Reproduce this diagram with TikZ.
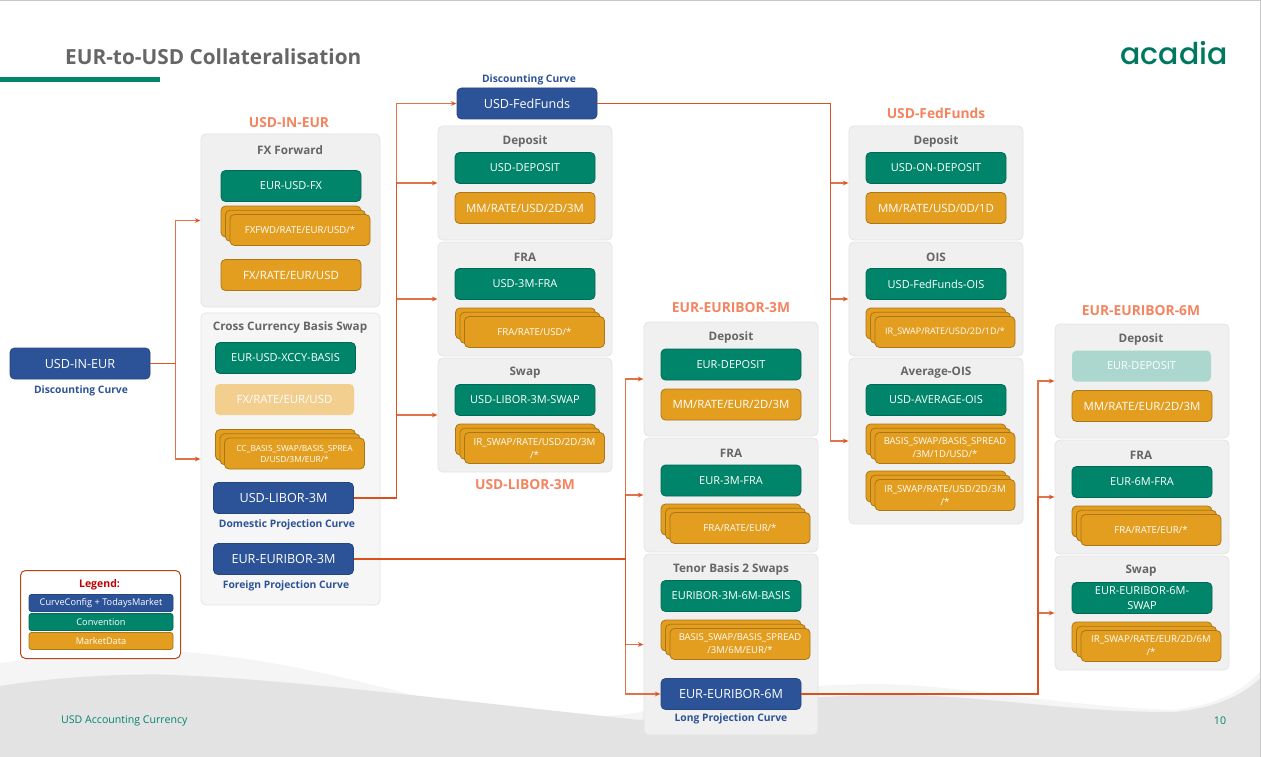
\documentclass[tikz,border=0pt]{standalone}
\usepackage{fontspec}
\setmainfont{Open Sans}
\newfontfamily\logofont{Poppins Medium}
\usetikzlibrary{arrows.meta}
\definecolor{curveblue}{HTML}{2C5297}
\definecolor{convgreen}{HTML}{00856A}
\definecolor{mktorange}{HTML}{E49E1F}
\definecolor{linkred}{HTML}{D9501E}
\definecolor{headsalmon}{HTML}{F4845F}
\definecolor{titlegrey}{HTML}{666666}
\newcommand{\px}[1]{\fontsize{#1}{13}\selectfont}
% stack of three market data boxes, front one centred on x,y
\newcommand{\mktstack}[5][10]{%
\foreach \k in {2,1} {\node[mkt] (#2\k) at ({#3-4.5*\k},{#4-4.25*\k}) {};}
\node[mkt,font=\px{#1}] (#2) at (#3,#4) {#5};}
\begin{document}
\begin{tikzpicture}[x=1pt,y=-1pt,
  every node/.style={inner sep=0pt,align=center},
  panel/.style={draw=black!11,line width=.8pt,fill=black!6,rounded corners=5pt},
  panellow/.style={panel,fill=black!3.5},
  base/.style={minimum width=140pt,minimum height=31pt,rounded corners=4.5pt,line width=.8pt,text=white,yshift=-.5pt},
  conv/.style={base,draw=convgreen!80!black,fill=convgreen,font=\px{11}},
  mkt/.style={base,draw=mktorange!75!black,fill=mktorange,font=\px{11.4}},
  curve/.style={base,draw=curveblue!85!black,fill=curveblue,font=\px{12.6}},
  fadeconv/.style={base,fill=convgreen!33,font=\px{11}},
  fademkt/.style={base,fill=mktorange!50,font=\px{11.4}},
  head/.style={font=\bfseries\px{13.8},text=headsalmon},
  ptitle/.style={font=\bfseries\px{11.7},text=titlegrey,yshift=-2pt},
  curvelabel/.style={font=\bfseries\px{10.3},text=curveblue,yshift=-1.5pt},
  legbox/.style={base,minimum width=144pt,minimum height=17pt,rounded corners=2.5pt,font=\px{9.2}},
  link/.style={draw=linkred,line width=1.3pt,draw opacity=.8,-{Stealth[length=6pt,width=5pt]}}]
\useasboundingbox (0,0) rectangle (1261,757);
% page furniture
\fill[black!4] (0,663) .. controls (40,658) and (70,651) .. (130,651) .. controls (230,648) and (340,675) .. (449,705) .. controls (520,712) and (590,722) .. (640,712) .. controls (700,695) and (800,684) .. (880,684) .. controls (970,686) and (1050,705) .. (1172,710) .. controls (1215,706) and (1245,690) .. (1261,670) -- (1261,757) -- (0,757) -- cycle;
\fill[black!11] (0,686) .. controls (50,678) and (110,674) .. (160,674.5) .. controls (280,678) and (450,700) .. (640,720) .. controls (700,708) and (800,695) .. (886,695) .. controls (980,694) and (1060,712) .. (1172,712) .. controls (1210,710) and (1245,695) .. (1261,677) -- (1261,757) -- (0,757) -- cycle;
\draw[black!22,line width=1pt] (0,.5) -- (1261,.5) (1260.5,0) -- (1260.5,757);
\fill[convgreen] (0,77) rectangle (160,82);
\node[font=\bfseries\px{20.8},text=titlegrey,anchor=west] (pagetitle) at (65,57) {EUR-to-USD Collateralisation};
\node[font=\logofont\px{30},text=convgreen!90!black,anchor=east] (logo) at (1228,53) {acadia};
\node[font=\px{10.6},text=convgreen,anchor=west] (footer) at (61,721) {USD Accounting Currency};
\node[font=\px{10.6},text=convgreen] (pageno) at (1220,720.5) {10};
% USD-IN-EUR
\node[curve] (usdineur) at (80,363) {USD-IN-EUR};
\node[curvelabel] (usdineurlabel) at (81,389) {Discounting Curve};
\node[head] (headinbase) at (289,123) {USD-IN-EUR};
\node[panel,minimum width=179pt,minimum height=173pt] (pfx) at (290.5,220.5) {};
\node[panellow,minimum width=179pt,minimum height=292pt] (pxccy) at (290.5,459) {};
\node[ptitle] (tfx) at (290,148) {FX Forward};
\node[conv] (fxconv) at (291,185.5) {EUR-USD-FX};
\mktstack[9.6]{fxfwd}{300}{229.5}{FXFWD/RATE/EUR/USD/*}
\node[mkt] (fxrate) at (291,274.5) {FX/RATE/EUR/USD};
\node[ptitle] (txccy) at (290,325) {Cross Currency Basis Swap};
\node[conv] (xccyconv) at (285.5,357.5) {EUR-USD-XCCY-BASIS};
\node[fademkt,minimum width=139pt] (xccyfx) at (284.5,399) {FX/RATE/EUR/USD};
\mktstack[8.4]{ccbasis}{294.5}{453}{CC\_BASIS\_SWAP/BASIS\_SPREA\\[-2pt]D/USD/3M/EUR/*}
\node[curve] (usdlibor) at (283.5,497.5) {USD-LIBOR-3M};
\node[curvelabel] (usdliborlabel) at (287,523) {Domestic Projection Curve};
\node[curve] (eureur) at (283.5,558.5) {EUR-EURIBOR-3M};
\node[curvelabel] (eureurlabel) at (286,584) {Foreign Projection Curve};
% legend
\node[draw=linkred!85!black,line width=1pt,fill=white,rounded corners=5pt,minimum width=160pt,minimum height=88pt] (legend) at (100.5,614.5) {};
\node[font=\bfseries\px{10.5},text=red!75!black,yshift=-1.5pt] (legendtitle) at (99.5,583) {Legend:};
\node[legbox,draw=curveblue!85!black,fill=curveblue] (legcurve) at (101,602.5) {CurveConfig + TodaysMarket};
\node[legbox,draw=convgreen!80!black,fill=convgreen] (legconv) at (101,621.5) {Convention};
\node[legbox,draw=mktorange!75!black,fill=mktorange] (legmkt) at (101,640.5) {MarketData};
% USD-LIBOR-3M
\node[curvelabel] (fedlabel) at (529,78) {Discounting Curve};
\node[curve] (usdfed) at (527,103) {USD-FedFunds};
\node[panel,minimum width=174pt,minimum height=114pt] (pdepusd) at (525,183) {};
\node[panel,minimum width=174pt,minimum height=114pt] (pfrausd) at (525,299) {};
\node[panel,minimum width=174pt,minimum height=114pt] (pswpusd) at (525,415) {};
\node[ptitle] (tdepusd) at (525,139) {Deposit};
\node[conv] (depusd) at (525,167.5) {USD-DEPOSIT};
\node[mkt] (mmusd) at (525,207.5) {MM/RATE/USD/2D/3M};
\node[ptitle] (tfrausd) at (525,255) {FRA};
\node[conv] (frausd) at (525,283.5) {USD-3M-FRA};
\mktstack[9.6]{frausdm}{534.5}{331.5}{FRA/RATE/USD/*}
\node[ptitle] (tswpusd) at (525,371) {Swap};
\node[conv] (swpusd) at (525,399.5) {USD-LIBOR-3M-SWAP};
\mktstack[9.7]{irusd}{534.5}{447.5}{IR\_SWAP/RATE/USD/2D/3M\\/*}
\node[head] (headlibor) at (525,485) {USD-LIBOR-3M};
% EUR-EURIBOR-3M
\node[head] (headeur) at (731,308) {EUR-EURIBOR-3M};
\node[panel,minimum width=174pt,minimum height=114pt] (pdepeur) at (731,379) {};
\node[panel,minimum width=174pt,minimum height=114pt] (pfraeur) at (731,495) {};
\node[panel,minimum width=174pt,minimum height=181pt] (ptenor) at (731,644.5) {};
\node[ptitle] (tdepeur) at (731,335) {Deposit};
\node[conv] (depeur) at (731,364) {EUR-DEPOSIT};
\node[mkt] (mmeur) at (731,404) {MM/RATE/EUR/2D/3M};
\node[ptitle] (tfraeur) at (731,451) {FRA};
\node[conv] (fraeur) at (731,480) {EUR-3M-FRA};
\mktstack[9.6]{fraeurm}{740}{527.5}{FRA/RATE/EUR/*}
\node[ptitle] (ttenor) at (731,567) {Tenor Basis 2 Swaps};
\node[conv] (tenor) at (731,595.5) {EURIBOR-3M-6M-BASIS};
\mktstack[9.5]{tenorm}{740}{643.5}{BASIS\_SWAP/BASIS\_SPREAD\\/3M/6M/EUR/*}
\node[curve] (eursix) at (731,693.5) {EUR-EURIBOR-6M};
\node[curvelabel] (eursixlabel) at (731,717) {Long Projection Curve};
% USD-FedFunds
\node[head] (headfed) at (936,113) {USD-FedFunds};
\node[panel,minimum width=174pt,minimum height=114pt] (pdepon) at (936,183) {};
\node[panel,minimum width=174pt,minimum height=114pt] (pois) at (936,299) {};
\node[panel,minimum width=174pt,minimum height=166pt] (pavg) at (936,441) {};
\node[ptitle] (tdepon) at (936,139) {Deposit};
\node[conv] (depon) at (936,167.5) {USD-ON-DEPOSIT};
\node[mkt] (mmon) at (936,207.5) {MM/RATE/USD/0D/1D};
\node[ptitle] (tois) at (936,255) {OIS};
\node[conv] (ois) at (936,283.5) {USD-FedFunds-OIS};
\mktstack[9]{oism}{945}{331.5}{IR\_SWAP/RATE/USD/2D/1D/*}
\node[ptitle] (tavg) at (936,371) {Average-OIS};
\node[conv] (avg) at (936,399.5) {USD-AVERAGE-OIS};
\mktstack[9.5]{avgbasis}{945}{447.5}{BASIS\_SWAP/BASIS\_SPREAD\\/3M/1D/USD/*}
\mktstack[9.7]{avgir}{945}{494.5}{IR\_SWAP/RATE/USD/2D/3M\\/*}
% EUR-EURIBOR-6M
\node[head] (headsix) at (1141,311) {EUR-EURIBOR-6M};
\node[panel,minimum width=174pt,minimum height=114pt] (pdepsix) at (1142,381) {};
\node[panel,minimum width=174pt,minimum height=114pt] (pfrasix) at (1142,497) {};
\node[panel,minimum width=174pt,minimum height=114pt] (pswpsix) at (1142,613) {};
\node[ptitle] (tdepsix) at (1141,337) {Deposit};
\node[fadeconv,minimum width=139pt] (depsix) at (1141.5,365.5) {EUR-DEPOSIT};
\node[mkt] (mmsix) at (1142,405.5) {MM/RATE/EUR/2D/3M};
\node[ptitle] (tfrasix) at (1141,453) {FRA};
\node[conv] (frasix) at (1142,481.5) {EUR-6M-FRA};
\mktstack[9.6]{frasixm}{1151}{529.5}{FRA/RATE/EUR/*}
\node[ptitle] (tswpsix) at (1141,569) {Swap};
\node[conv] (swpsix) at (1142,597.5) {EUR-EURIBOR-6M-\\[2pt]SWAP};
\mktstack[9.6]{irsix}{1151}{645.5}{IR\_SWAP/RATE/EUR/2D/6M\\/*}
% connectors
\coordinate (businbase) at (175.5,363.5);
\coordinate (buslibor) at (396.5,498);
\coordinate (busfed) at (830.5,103.5);
\coordinate (buseur) at (625.5,559);
\coordinate (bussix) at (1038,694);
\foreach \t in {pfx,pxccy} {\draw[link] (usdineur.east) -- (businbase) |- (\t.west);}
\foreach \t in {usdfed,pdepusd,pfrausd,pswpusd} {\draw[link] (usdlibor.east) -- (buslibor) |- (\t.west);}
\foreach \t in {pdepon,pois,pavg} {\draw[link] (usdfed.east) -- (busfed) |- (\t.west);}
\foreach \t in {pdepeur,pfraeur,ptenor,eursix} {\draw[link] (eureur.east) -- (buseur) |- (\t.west);}
\foreach \t in {pdepsix,pfrasix,pswpsix} {\draw[link] (eursix.east) -- (bussix) |- (\t.west);}
\end{tikzpicture}
\end{document}
